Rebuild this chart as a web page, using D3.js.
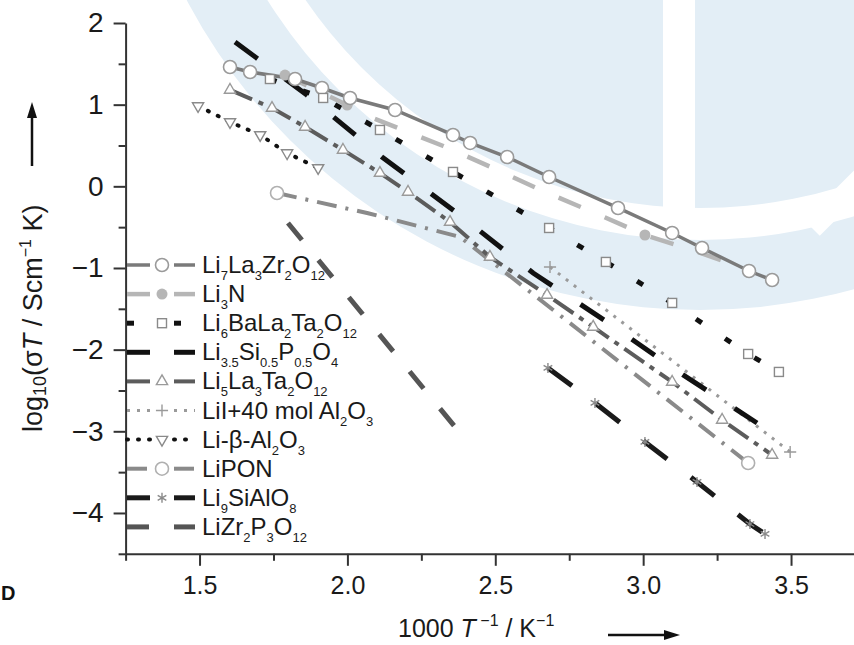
<!DOCTYPE html>
<html>
<head>
<meta charset="utf-8">
<script src="https://cdn.jsdelivr.net/npm/d3@7"></script>
<style>
  body { margin: 0; background: #fff; }
  svg { display: block; font-family: "Liberation Sans", Arial, sans-serif; }
</style>
</head>
<body>
<script>
// values: [1000/T, log10(sigma T)]
var llzo  = [[1.603,1.461],[1.671,1.400],[1.823,1.314],[1.914,1.204],[2.009,1.082],[2.161,0.935],[2.357,0.629],[2.415,0.531],[2.540,0.359],[2.682,0.114],[2.915,-0.265],[3.098,-0.571],[3.199,-0.755],[3.358,-1.037],[3.436,-1.147]];
var li3n  = [[1.789,1.363],[1.999,0.996],[2.077,0.849],[2.324,0.494],[2.492,0.225],[2.668,-0.069],[2.837,-0.326],[3.006,-0.596],[3.165,-0.779],[3.327,-0.988]];
var lblt  = [[1.738,1.314],[1.918,1.082],[2.110,0.690],[2.357,0.176],[2.682,-0.510],[2.874,-0.926],[3.098,-1.428],[3.355,-2.053],[3.459,-2.273]];
var lsp   = [[1.620,1.767],[1.863,1.118],[2.117,0.359],[2.371,-0.327],[2.628,-1.061],[2.878,-1.661],[3.135,-2.310],[3.385,-2.898]];
var llto  = [[1.603,1.180],[1.745,0.959],[1.857,0.727],[1.985,0.445],[2.110,0.163],[2.205,-0.069],[2.347,-0.437],[2.482,-0.865],[2.675,-1.331],[2.831,-1.722],[3.098,-2.396],[3.267,-2.861],[3.436,-3.290]];
var lii   = [[2.685,-0.988],[3.091,-2.114],[3.497,-3.253]];
var lba   = [[1.495,0.984],[1.603,0.788],[1.705,0.629],[1.796,0.408],[1.901,0.225]];
var lipon = [[1.762,-0.082],[2.070,-0.330],[2.381,-0.620],[2.868,-2.004],[3.355,-3.388]];
var lsao  = [[2.678,-2.224],[2.837,-2.653],[3.006,-3.130],[3.182,-3.620],[3.361,-4.135],[3.412,-4.257]];
var lzp   = [[1.799,-0.449],[2.082,-1.700],[2.364,-2.947]];

var names = ['Li{7}La{3}Zr{2}O{12}','Li{3}N','Li{6}BaLa{2}Ta{2}O{12}','Li{3.5}Si{0.5}P{0.5}O{4}','Li{5}La{3}Ta{2}O{12}',
             'LiI+40 mol Al{2}O{3}','Li-\u03b2-Al{2}O{3}','LiPON','Li{9}SiAlO{8}','LiZr{2}P{3}O{12}'];
var xMajor = [1.5, 2.0, 2.5, 3.0, 3.5];
var xMinor = [1.25, 1.75, 2.25, 2.75, 3.25, 3.75];
var yMajor = [2, 1, 0, -1, -2, -3, -4];
var yMinor = [1.5, 0.5, -0.5, -1.5, -2.5, -3.5, -4.5];

// line and marker styles, same order as names
var styles = [
  {data: llzo,  color:'#7a7a7a', w:3.5, dash:null,        mk:'circle',  mc:'#9a9a9a'},
  {data: li3n,  color:'#b6b6b6', w:4.5, dash:'24,26',     mk:'dot',     mc:'#b6b6b6', at:[0,1,7]},
  {data: lblt,  color:'#111',    w:5,   dash:'7,28',      mk:'square',  mc:'#8a8a8a'},
  {data: lsp,   color:'#111',    w:5,   dash:'28,34',     mk:null},
  {data: llto,  color:'#5c5c5c', w:4,   dash:'24,7,5,7',  mk:'tri',     mc:'#9a9a9a'},
  {data: lii,   color:'#9a9a9a', w:3,   dash:'3,7',       mk:'plus',    mc:'#9a9a9a', at:[0,2]},
  {data: lba,   color:'#111',    w:4,   dash:'1,10',      mk:'trid',    mc:'#8a8a8a', cap:'round'},
  {data: lipon, color:'#8a8a8a', w:4,   dash:'20,9,3,9',  mk:'circle',  mc:'#b0b0b0', at:[0,4]},
  {data: lsao,  color:'#1a1a1a', w:5,   dash:'30,30',     mk:'star',    mc:'#8a8a8a'},
  {data: lzp,   color:'#555',    w:5,   dash:'22,26',     mk:null}
];

var width = 854, height = 645;
var svg = d3.select('body').append('svg')
    .attr('width', width)
    .attr('height', height);

// faint watermark in the background
var wm = svg.append('g').attr('fill', '#e3eef6');
var ring = d3.arc().startAngle(0).endAngle(2 * Math.PI);
var wmAt = 'translate(700,-270)';
wm.append('path').attr('transform', wmAt).attr('d', ring({innerRadius: 510, outerRadius: 580}));
wm.append('path').attr('transform', wmAt).attr('d', ring({innerRadius: 0, outerRadius: 478}));
wm.append('rect').attr('x', 663).attr('y', 0).attr('width', 32).attr('height', 232).attr('fill', '#fff');
wm.append('line').attr('x1', 812).attr('y1', 228).attr('x2', 880).attr('y2', 160)
    .attr('stroke', '#fff').attr('stroke-width', 22);

var x = d3.scaleLinear().domain([1.25, 3.75]).range([125.6, 125.6 + 2.5 * 295.75]);
var y = d3.scaleLinear().domain([-4.5, 2]).range([553.8, 23]);

// axes
var axisColor = '#333';
function styleAxis(g) {
    g.selectAll('path.domain').attr('stroke', axisColor).attr('stroke-width', 2);
    g.selectAll('.tick line').attr('stroke', axisColor).attr('stroke-width', 2);
    g.selectAll('.tick text').attr('fill', '#1a1a1a');
}
svg.append('g')
    .attr('transform', 'translate(0,553.8)')
    .call(d3.axisBottom(x).tickValues(xMinor).tickSize(7).tickSizeOuter(0).tickFormat(''))
    .call(styleAxis);
svg.append('g')
    .attr('transform', 'translate(0,553.8)')
    .call(d3.axisBottom(x).tickValues(xMajor).tickSize(12).tickSizeOuter(0).tickPadding(10).tickFormat(d3.format('.1f')))
    .call(styleAxis)
    .call(function(g){ g.selectAll('.tick text').attr('font-size', 25); g.select('.domain').remove(); });
svg.append('g')
    .attr('transform', 'translate(125.6,0)')
    .call(d3.axisLeft(y).tickValues(yMinor).tickSize(7).tickSizeOuter(0).tickFormat(''))
    .call(styleAxis);
svg.append('g')
    .attr('transform', 'translate(125.6,0)')
    .call(d3.axisLeft(y).tickValues(yMajor).tickSize(12).tickSizeOuter(0).tickPadding(10).tickFormat(d3.format('d')))
    .call(styleAxis)
    .call(function(g){ g.selectAll('.tick text').attr('font-size', 28); g.select('.domain').remove(); });

// markers
function marker(g, type, px, py, color) {
    if (type === 'circle') {
        g.append('circle').attr('cx', px).attr('cy', py).attr('r', 6.5)
            .attr('fill', '#fff').attr('stroke', color).attr('stroke-width', 1.6);
    } else if (type === 'dot') {
        g.append('circle').attr('cx', px).attr('cy', py).attr('r', 5.5).attr('fill', color);
    } else if (type === 'square') {
        g.append('rect').attr('x', px - 4.5).attr('y', py - 4.5).attr('width', 9).attr('height', 9)
            .attr('fill', '#fff').attr('stroke', color).attr('stroke-width', 1.4);
    } else {
        var sym = {tri: d3.symbolTriangle2, trid: d3.symbolTriangle2, plus: d3.symbolPlus, star: d3.symbolAsterisk}[type];
        var size = {tri: 90, trid: 90, plus: 50, star: 70}[type];
        g.append('path')
            .attr('d', d3.symbol(sym, size)())
            .attr('transform', 'translate(' + px + ',' + py + ')' + (type === 'trid' ? ' rotate(180)' : ''))
            .attr('fill', type === 'tri' || type === 'trid' ? '#fff' : 'none')
            .attr('stroke', color).attr('stroke-width', 1.4);
    }
}

var line = d3.line().x(function(d){ return x(d[0]); }).y(function(d){ return y(d[1]); });
var plot = svg.append('g');
var order = [9, 7, 4, 5, 6, 8, 1, 0, 2, 3];
order.forEach(function(i) {
    var s = styles[i];
    plot.append('path')
        .datum(s.data)
        .attr('d', line)
        .attr('fill', 'none')
        .attr('stroke', s.color)
        .attr('stroke-width', s.w)
        .attr('stroke-linecap', s.cap || 'butt')
        .attr('stroke-dasharray', s.dash);
});
order.forEach(function(i) {
    var s = styles[i];
    if (!s.mk) return;
    s.data.forEach(function(d, j) {
        if (s.at && s.at.indexOf(j) < 0) return;
        marker(plot, s.mk, x(d[0]), y(d[1]), s.mc);
    });
});

// text with {subscript} parts
function rich(text, str, size, subSize, shift) {
    var parts = str.split(/(\{[^}]*\})/).filter(function(p){ return p.length; });
    var down = false;
    parts.forEach(function(p) {
        var sub = p.charAt(0) === '{';
        var t = text.append('tspan').text(sub ? p.slice(1, -1) : p)
            .attr('font-size', sub ? subSize : size);
        if (sub && !down) { t.attr('dy', shift); down = true; }
        else if (!sub && down) { t.attr('dy', -shift); down = false; }
    });
}

// legend
var legend = svg.append('g');
styles.forEach(function(s, i) {
    var ly = 265 + i * 29.1;
    [[127, 150], [174, 195]].forEach(function(seg) {
        legend.append('line')
            .attr('x1', seg[0]).attr('x2', seg[1]).attr('y1', ly).attr('y2', ly)
            .attr('stroke', s.color).attr('stroke-width', s.w)
            .attr('stroke-linecap', s.cap || 'butt')
            .attr('stroke-dasharray', s.dash);
    });
    if (s.mk) marker(legend, s.mk, 162, ly, s.mc);
    var t = legend.append('text').attr('x', 202).attr('y', ly + 8).attr('fill', '#1a1a1a');
    rich(t, names[i], 24, 13, 7);
});

// axis titles
var xt = svg.append('text').attr('x', 398).attr('y', 637).attr('font-size', 25).attr('fill', '#1a1a1a');
xt.append('tspan').text('1000 ');
xt.append('tspan').text('T').attr('font-style', 'italic');
xt.append('tspan').text(' \u22121').attr('font-size', 16).attr('dy', -11);
xt.append('tspan').text(' / K').attr('dy', 11);
xt.append('tspan').text('\u22121').attr('font-size', 16).attr('dy', -11);

var ax = svg.append('g').attr('stroke', '#111').attr('fill', '#111');
ax.append('line').attr('x1', 608).attr('x2', 668).attr('y1', 635).attr('y2', 635).attr('stroke-width', 2.5);
ax.append('path').attr('d', 'M680,635 L664,630 L664,640 Z').attr('stroke', 'none');

var yt = svg.append('text')
    .attr('transform', 'translate(42,432) rotate(-90)')
    .attr('font-size', 27).attr('fill', '#1a1a1a');
yt.append('tspan').text('log');
yt.append('tspan').text('10').attr('font-size', 18).attr('dy', 4);
yt.append('tspan').text('(\u03c3').attr('dy', -4);
yt.append('tspan').text('T').attr('font-style', 'italic');
yt.append('tspan').text(' / Scm');
yt.append('tspan').text('\u22121').attr('font-size', 16).attr('dy', -11);
yt.append('tspan').text(' K)').attr('dy', 11);
ax.append('line').attr('x1', 32).attr('x2', 32).attr('y1', 166).attr('y2', 116).attr('stroke-width', 2.5);
ax.append('path').attr('d', 'M32,102 L27,118 L37,118 Z').attr('stroke', 'none');

// panel letter at the lower left
svg.append('text').attr('x', 1).attr('y', 600).attr('font-size', 20).attr('font-weight', 'bold').attr('fill', '#111').text('D');
</script>
</body>
</html>
